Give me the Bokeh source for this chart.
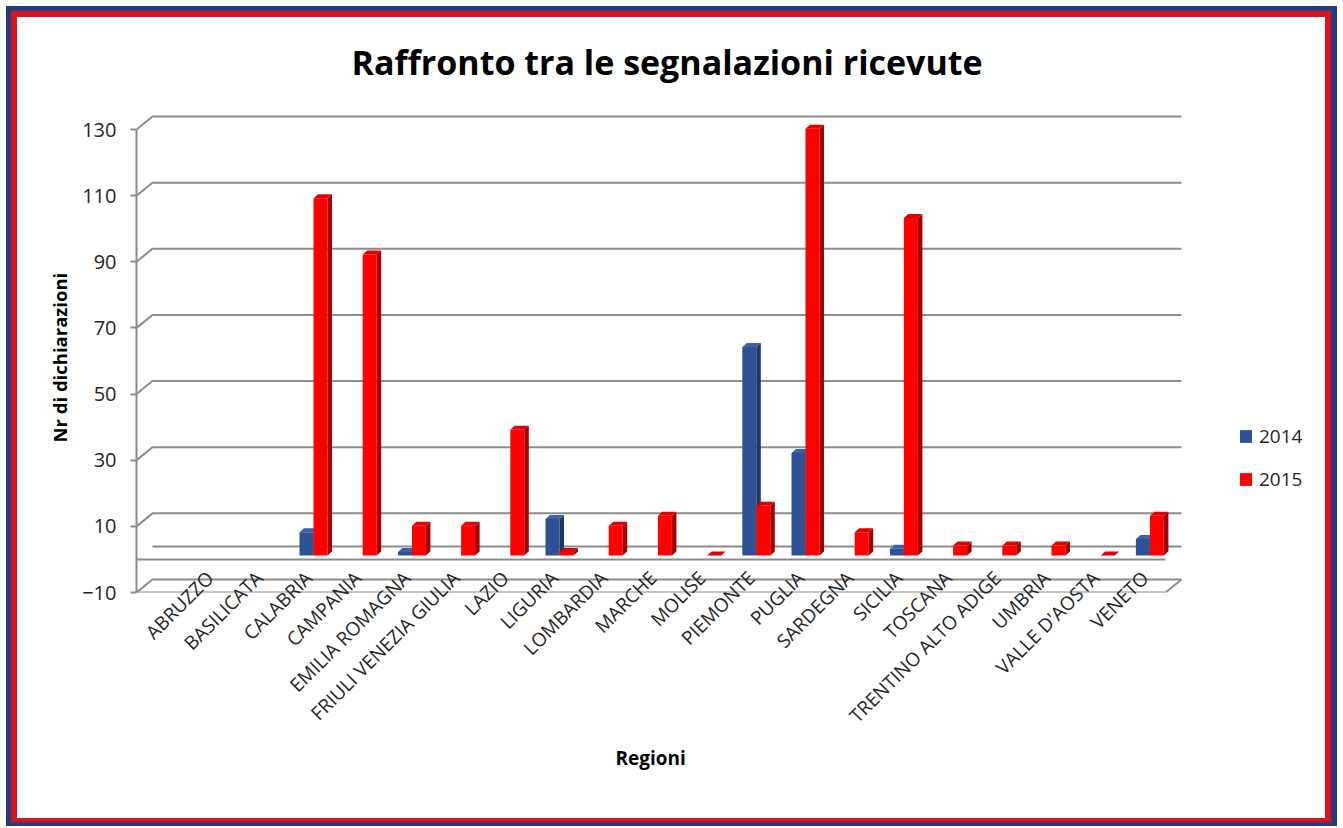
import math
from bokeh.plotting import figure
from bokeh.models import Range1d, FixedTicker, Title, Legend, LegendItem, ColumnDataSource
from bokeh.embed import file_html
from bokeh.resources import INLINE

# ---------------- data ----------------
regions = ["ABRUZZO", "BASILICATA", "CALABRIA", "CAMPANIA", "EMILIA ROMAGNA",
           "FRIULI VENEZIA GIULIA", "LAZIO", "LIGURIA", "LOMBARDIA", "MARCHE",
           "MOLISE", "PIEMONTE", "PUGLIA", "SARDEGNA", "SICILIA", "TOSCANA",
           "TRENTINO ALTO ADIGE", "UMBRIA", "VALLE D'AOSTA", "VENETO"]
series_names = ["2014", "2015"]
values_2014 = [None, None, 7, None, 1, None, None, 11, None, None,
               None, 63, 31, None, 2, None, None, None, None, 5]
values_2015 = [None, None, 108, 91, 9, 9, 38, 1, 9, 12,
               0, 15, 129, 7, 102, 3, 3, 3, 0, 12]
y_ticks = [-10, 10, 30, 50, 70, 90, 110, 130]
title_text = "Raffronto tra le segnalazioni ricevute"
y_title = "Nr di dichiarazioni"
x_title = "Regioni"

# ---------------- geometry ----------------
SX = 49.2      # px per category
SY = 3.307     # px per value unit
FRAME_L = 136  # canvas px of the value axis
X0 = -1.496
Y0 = -10
W_CANVAS, H_CANVAS = 1340, 826
MB_L, MB_T = 136, 97
FRAME_W, FRAME_H = 1181, 495
MB_R = W_CANVAS - MB_L - FRAME_W
MB_B = H_CANVAS - MB_T - FRAME_H
X_END = X0 + FRAME_W / SX
Y_END = Y0 + FRAME_H / SY


def ux(page_x):
    return X0 + (page_x - FRAME_L) / SX


DX, DY = 16 / SX, 13 / SY          # wall depth
BX, BY = 5 / SX, 4 / SY            # bar front offset (depth position)
BW = 14 / SX                       # bar front width
BDX, BDY = 4.5 / SX, 4 / SY        # bar depth
XR = ux(1165)                      # right end of floor (front)

GRID = "#8C8C8C"
BLUE_B, MID_B, RED_B = "#1F3D7A", "#8A2450", "#E3131B"
colors = {
    "2014": ("#2E5395", "#1F3864", "#3B63A6"),
    "2015": ("#FF0000", "#A80000", "#E00000"),
}

p = figure(width=W_CANVAS, height=H_CANVAS,
           x_range=Range1d(X0, X_END), y_range=Range1d(Y0, Y_END),
           output_backend="svg", toolbar_location=None,
           min_border_left=MB_L, min_border_right=MB_R,
           min_border_top=MB_T, min_border_bottom=MB_B)
p.xgrid.visible = False
p.ygrid.visible = False
p.outline_line_color = None
p.background_fill_color = "white"
p.border_fill_color = None
p.styles = {
    "background-color": "white",
    "box-shadow": ", ".join([
        "inset 6px 0 0 0 white", "inset 0 6px 0 0 white", "inset -3px 0 0 0 white",
        f"inset 10px 0 0 0 {BLUE_B}", f"inset 0 10px 0 0 {BLUE_B}",
        f"inset -8px 0 0 0 {BLUE_B}", f"inset 0 -3px 0 0 {BLUE_B}",
        f"inset 12px 0 0 0 {MID_B}", f"inset 0 12px 0 0 {MID_B}",
        f"inset -10px 0 0 0 {MID_B}", f"inset 0 -5px 0 0 {MID_B}",
        f"inset 17px 0 0 0 {RED_B}", f"inset 0 17px 0 0 {RED_B}",
        f"inset -15px 0 0 0 {RED_B}", f"inset 0 -8px 0 0 {RED_B}",
    ]),
}

# back wall + side wall grid lines
gx, gy = [], []
for t in y_ticks:
    gx.append([X0, X0 + DX, XR + DX])
    gy.append([t, t + DY, t + DY])
# zero plane (back and front edges)
gx.append([X0 + DX, XR + DX]); gy.append([DY, DY])
gx.append([X0, XR]); gy.append([0, 0])
# floor front edge and right edge
gx.append([X0, XR, XR + DX]); gy.append([Y0, Y0, Y0 + DY])
p.multi_line(gx, gy, line_color=GRID, line_width=2)

# bars (front face, side face, top face)
legend_items = []
for s, (name, vals) in enumerate(zip(series_names, [values_2014, values_2015])):
    front_c, side_c, top_c = colors[name]
    idx = [i for i, v in enumerate(vals) if v is not None]
    v = [vals[i] for i in idx]
    left = [i + BX - BW + s * BW for i in idx]
    right = [l + BW for l in left]
    src = ColumnDataSource(dict(left=left, right=right,
                                bottom=[BY] * len(v), top=[vv + BY for vv in v]))
    r = p.quad(left="left", right="right", bottom="bottom", top="top", source=src,
               fill_color=front_c, line_color=None)
    side_xs = [[rr, rr + BDX, rr + BDX, rr] for rr in right]
    side_ys = [[BY, BY + BDY, vv + BY + BDY, vv + BY] for vv in v]
    p.patches(side_xs, side_ys, fill_color=side_c, line_color=None)
    top_xs = [[l, l + BDX, rr + BDX, rr] for l, rr in zip(left, right)]
    top_ys = [[vv + BY, vv + BY + BDY, vv + BY + BDY, vv + BY] for vv in v]
    p.patches(top_xs, top_ys, fill_color=top_c, line_color=None)
    legend_items.append(LegendItem(label=name, renderers=[r]))

# axes
p.yaxis.ticker = FixedTicker(ticks=y_ticks)
p.yaxis.bounds = (-10, 130)
p.yaxis.axis_line_color = GRID
p.yaxis.axis_line_width = 2
p.yaxis.major_tick_line_color = GRID
p.yaxis.major_tick_line_width = 2
p.yaxis.major_tick_out = 6
p.yaxis.major_tick_in = 0
p.yaxis.minor_tick_line_color = None
p.yaxis.major_label_text_font = "Open Sans"
p.yaxis.major_label_text_font_size = "20px"
p.yaxis.major_label_text_color = "#262626"
p.yaxis.major_label_standoff = 14

p.xaxis.ticker = FixedTicker(ticks=list(range(len(regions))))
p.xaxis.major_label_overrides = {i: r for i, r in enumerate(regions)}
p.xaxis.axis_line_color = None
p.xaxis.major_tick_line_color = None
p.xaxis.minor_tick_line_color = None
p.xaxis.major_tick_out = 0
p.xaxis.major_label_standoff = -18
p.xaxis.major_label_orientation = math.pi / 4
p.xaxis.major_label_text_font = "Open Sans"
p.xaxis.major_label_text_font_size = "19px"
p.xaxis.major_label_text_color = "#262626"

# titles
p.title.text = title_text
p.title.align = "left"
p.title.offset = 215
p.title.standoff = 25
p.title.text_font = "Open Sans"
p.title.text_font_style = "bold"
p.title.text_font_size = "34px"
p.title.text_color = "black"

p.add_layout(Title(text=x_title, align="left", offset=479, standoff=5,
                   text_font="Open Sans", text_font_style="bold",
                   text_font_size="19px", text_color="black"), "below")
p.add_layout(Title(text=y_title, align="left", offset=150, standoff=15,
                   text_font="Open Sans", text_font_style="bold",
                   text_font_size="18.5px", text_color="black"), "left")

legend = Legend(items=legend_items, location=(1102, 100),
                orientation="vertical", glyph_width=15, glyph_height=16,
                label_text_font="Open Sans", label_text_font_size="19px",
                label_text_color="#262626", label_standoff=6, spacing=17,
                padding=0, margin=0, border_line_color=None,
                background_fill_alpha=0)
p.add_layout(legend)

open("out.html", "w").write(file_html(p, INLINE))
